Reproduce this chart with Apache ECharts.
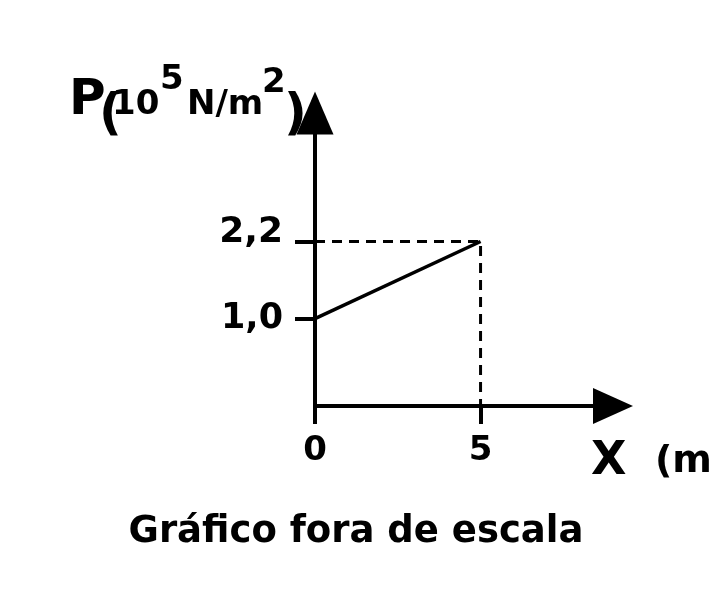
<!DOCTYPE html>
<html>
<head>
<meta charset="utf-8">
<script src="https://cdn.jsdelivr.net/npm/echarts@6/dist/echarts.min.js"></script>
<style>
html,body{margin:0;padding:0;background:#fff;}
#chart{width:716px;height:596px;}
</style>
</head>
<body>
<div id="chart"></div>
<script>
// Data (graph is "fora de escala": y axis is offset so 0 is below the origin)
const xValues = [0, 5];          // X (m)
const pValues = [1.0, 2.2];      // P (10^5 N/m^2)
const xTicks = [0, 5];
const yTicks = [1.0, 2.2];
const xMin = 0, xMax = 9;
const yMin = -0.36, yMax = 4.2;

const FONT = 'DejaVu Sans';
const chart = echarts.init(document.getElementById('chart'), null, {renderer: 'canvas'});

const mainLine = xValues.map((x, i) => [x, pValues[i]]);
const guide = [
  [xMin, pValues[1]],
  [xValues[1], pValues[1]],
  [xValues[1], yMin]
];

// text placed by its top edge
function txt(text, x, y, size, align) {
  return {
    type: 'text', x: x, y: y, silent: true,
    style: {text: text, fill: '#000', font: 'bold ' + size + 'px "' + FONT + '"',
            verticalAlign: 'top', align: align || 'left'}
  };
}

chart.setOption({
  backgroundColor: '#fff',
  animation: false,
  grid: {left: 315, right: 103, top: 113, bottom: 190, containLabel: false},
  xAxis: {
    type: 'value', min: xMin, max: xMax,
    axisLine: {onZero: false, symbol: ['none', 'triangle'], symbolSize: [36, 40],
               lineStyle: {color: '#000', width: 4}},
    axisTick: {show: true, customValues: xTicks, length: 18, inside: false,
               lineStyle: {color: '#000', width: 4}},
    axisLabel: {show: true, customValues: xTicks, margin: 28, color: '#000',
                fontFamily: FONT, fontWeight: 'bold', fontSize: 34},
    splitLine: {show: false}
  },
  yAxis: {
    type: 'value', min: yMin, max: yMax,
    axisLine: {onZero: false, symbol: ['none', 'triangle'], symbolSize: [37, 43],
               lineStyle: {color: '#000', width: 4}},
    axisTick: {show: true, customValues: yTicks, length: 20, inside: false,
               lineStyle: {color: '#000', width: 4}},
    axisLabel: {show: true, customValues: yTicks, margin: 32, color: '#000',
                fontFamily: FONT, fontWeight: 'bold', fontSize: 35,
                formatter: function (v) {
                  const s = v.toFixed(1).replace('.', ',');
                  return v > 2 ? '{hi|' + s + '}' : '{n|' + s + '}';
                },
                rich: {
                  hi: {fontFamily: FONT, fontWeight: 'bold', fontSize: 36, color: '#000', padding: [0, 0, 18, 0]},
                  n: {fontFamily: FONT, fontWeight: 'bold', fontSize: 35, color: '#000'}
                }},
    splitLine: {show: false}
  },
  series: [
    {
      type: 'line', data: guide, symbol: 'none', silent: true,
      lineStyle: {color: '#000', width: 3, type: [10, 7]}
    },
    {
      type: 'line', data: mainLine, symbol: 'none', silent: true,
      lineStyle: {color: '#000', width: 3.5}
    }
  ],
  graphic: [
    txt('P', 69, 76, 50),
    txt('(', 99, 91, 50),
    txt('10', 112, 88, 34),
    txt('5', 160, 63, 34),
    txt('N/m', 187, 88, 34),
    txt('2', 262, 66, 34),
    txt(')', 284, 91, 50),
    txt('X', 591, 439, 46),
    txt('(m', 655, 443, 38),
    txt('Gráfico fora de escala', 356, 514, 37, 'center')
  ]
});
</script>
</body>
</html>
